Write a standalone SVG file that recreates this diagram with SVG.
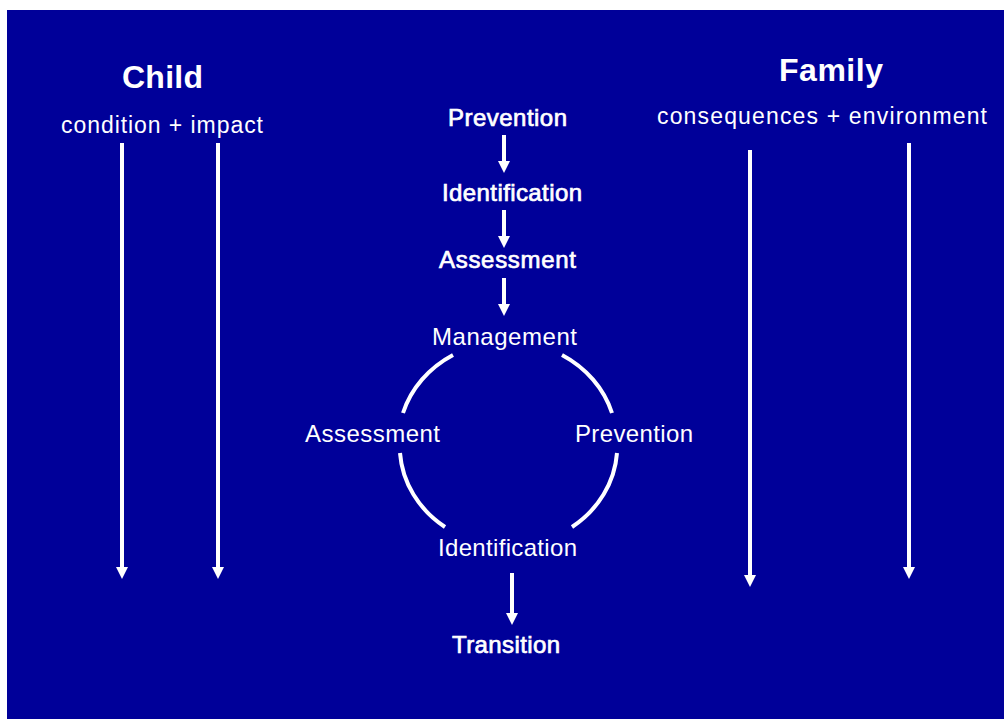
<svg xmlns="http://www.w3.org/2000/svg" width="1004" height="719" viewBox="0 0 1004 719">
<defs>
<style>
text{font-family:"Liberation Sans",Arial,sans-serif;fill:#ffffff;}
.h{font-size:32px;font-weight:bold;}
.s{font-size:23px;}
.b{font-size:24px;stroke:#ffffff;stroke-width:0.7;}
.r{font-size:24px;}
.ln{stroke:#ffffff;stroke-width:4;fill:none;}
.arc{stroke:#ffffff;stroke-width:4;fill:none;}
</style>
<marker id="ah" viewBox="0 0 12 12" refX="2" refY="6" markerWidth="12" markerHeight="12" markerUnits="userSpaceOnUse" orient="auto">
<path d="M0,0 L12,6 L0,12 z" fill="#ffffff"/>
</marker>
</defs>
<rect x="0" y="0" width="1004" height="719" fill="#ffffff"/>
<rect x="7" y="10" width="997" height="709" fill="#000099"/>

<g id="child">
<text class="h" x="122" y="88" textLength="81" lengthAdjust="spacing">Child</text>
<text class="s" x="61" y="133" textLength="202" lengthAdjust="spacing">condition + impact</text>
</g>
<g id="family">
<text class="h" x="779" y="81" textLength="104" lengthAdjust="spacing">Family</text>
<text class="s" x="657" y="124" textLength="330" lengthAdjust="spacing">consequences + environment</text>
</g>
<g id="prevention-top"><text class="b" x="448" y="126" textLength="119" lengthAdjust="spacing">Prevention</text></g>
<g id="identification-top"><text class="b" x="442" y="201" textLength="140" lengthAdjust="spacing">Identification</text></g>
<g id="assessment-top"><text class="b" x="439" y="268" textLength="137" lengthAdjust="spacing">Assessment</text></g>
<g id="management"><text class="r" x="432" y="345" textLength="145" lengthAdjust="spacing">Management</text></g>
<g id="assessment-cycle"><text class="r" x="305" y="442" textLength="135" lengthAdjust="spacing">Assessment</text></g>
<g id="prevention-cycle"><text class="r" x="575" y="442" textLength="118" lengthAdjust="spacing">Prevention</text></g>
<g id="identification-cycle"><text class="r" x="438" y="556" textLength="139" lengthAdjust="spacing">Identification</text></g>
<g id="transition"><text class="b" x="452" y="653" textLength="108" lengthAdjust="spacing">Transition</text></g>

<g id="connectors">
<line class="ln" x1="122" y1="143" x2="122" y2="569" marker-end="url(#ah)"/>
<line class="ln" x1="218" y1="143" x2="218" y2="569" marker-end="url(#ah)"/>
<line class="ln" x1="750" y1="150" x2="750" y2="577" marker-end="url(#ah)"/>
<line class="ln" x1="909" y1="143" x2="909" y2="569" marker-end="url(#ah)"/>
<line class="ln" x1="504" y1="135" x2="504" y2="163" marker-end="url(#ah)"/>
<line class="ln" x1="504" y1="210" x2="504" y2="238" marker-end="url(#ah)"/>
<line class="ln" x1="504" y1="278" x2="504" y2="306" marker-end="url(#ah)"/>
<line class="ln" x1="512" y1="573" x2="512" y2="615" marker-end="url(#ah)"/>
<path class="arc" d="M403,413 A110,100 0 0 1 453,355"/>
<path class="arc" d="M562,355 A110,100 0 0 1 612,413"/>
<path class="arc" d="M617,453 A110,100 0 0 1 572,527"/>
<path class="arc" d="M445,527 A110,100 0 0 1 400,453"/>
</g>
</svg>
